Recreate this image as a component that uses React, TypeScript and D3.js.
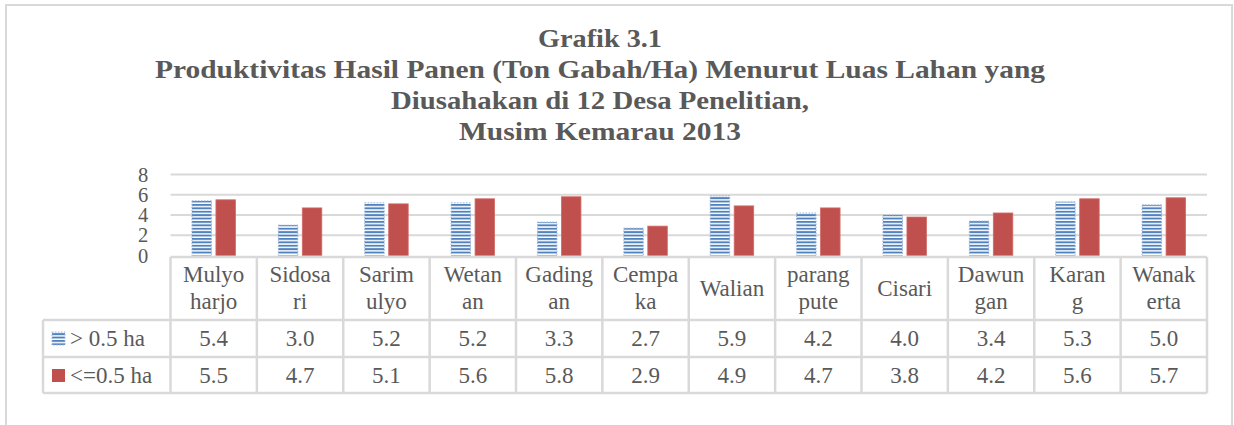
import React from "react";
import * as d3 from "d3";

const categories = [
  ["Mulyo", "harjo"], ["Sidosa", "ri"], ["Sarim", "ulyo"], ["Wetan", "an"],
  ["Gading", "an"], ["Cempa", "ka"], ["Walian"], ["parang", "pute"],
  ["Cisari"], ["Dawun", "gan"], ["Karan", "g"], ["Wanak", "erta"],
];
const seriesNames = ["> 0.5 ha", "<=0.5 ha"];
const seriesLarge = [5.4, 3.0, 5.2, 5.2, 3.3, 2.7, 5.9, 4.2, 4.0, 3.4, 5.3, 5.0];
const seriesSmall = [5.5, 4.7, 5.1, 5.6, 5.8, 2.9, 4.9, 4.7, 3.8, 4.2, 5.6, 5.7];
const yTicks = [0, 2, 4, 6, 8];
const titleLines = [
  "Grafik 3.1",
  "Produktivitas Hasil Panen (Ton Gabah/Ha) Menurut Luas Lahan yang",
  "Diusahakan di 12 Desa Penelitian,",
  "Musim Kemarau 2013",
];

const W = 1234, H = 425;
const plotLeft = 170.5, plotRight = 1207;
const yBase = 255.5, yTop = 174.5;
const rowLines = [257, 320, 357, 393];
const legendLeft = 43;
const grid = "#d9d9d9";
const textCol = "#595959";
const blue = "#4f81bd";
const red = "#c0504d";
const serif = "'Liberation Serif', 'Times New Roman', serif";

export default function App() {
  const idx = categories.map((_, i) => String(i));
  const x = d3.scaleBand().domain(idx).range([plotLeft, plotRight]).paddingInner(0).paddingOuter(0);
  const y = d3.scaleLinear().domain([0, 8]).range([yBase, yTop]);
  const barW = 19.5, gap = 4.5;
  const bw = x.bandwidth();
  const titleWidths = [124, 890, 418, 282];
  const titleY = [47, 78, 109, 140];
  const fs = 23;

  return (
    <svg width={W} height={H} style={{ position: "absolute", left: 0, top: 0, background: "#fff" }}>
      <defs>
        <pattern id="hstripe" patternUnits="userSpaceOnUse" width="4" height="3.4">
          <rect width="4" height="3.4" fill="#fff" />
          <rect width="4" height="1.9" fill={blue} />
        </pattern>
      </defs>
      {/* outer frame */}
      <rect x={6} y={5} width={1226} height={430} fill="none" stroke={grid} strokeWidth={2} />
      {/* title */}
      {titleLines.map((t, i) => (
        <text key={i} x={600} y={titleY[i]} textAnchor="middle" fontFamily={serif}
          fontWeight="bold" fontSize={25} fill={textCol} textLength={titleWidths[i]} lengthAdjust="spacingAndGlyphs">{t}</text>
      ))}
      {/* gridlines */}
      {yTicks.filter(t => t > 0).map(t => (
        <line key={t} x1={plotLeft} x2={plotRight} y1={y(t)} y2={y(t)} stroke={grid} strokeWidth={2} />
      ))}
      {/* y tick labels */}
      {yTicks.map(t => (
        <text key={t} x={143} y={y(t) + 7} textAnchor="middle" fontFamily={serif} fontSize={20.5} fill={textCol}>{t}</text>
      ))}
      {/* bars */}
      {idx.map((k, i) => {
        const c = (x(k) as number) + bw / 2;
        return (
          <g key={k}>
            <rect x={c - gap / 2 - barW} y={y(seriesLarge[i])} width={barW} height={yBase - y(seriesLarge[i])}
              fill="url(#hstripe)" stroke="#9db7dc" strokeWidth={1} strokeDasharray="1.5,1.5" />
            <rect x={c + gap / 2} y={y(seriesSmall[i])} width={barW} height={yBase - y(seriesSmall[i])}
              fill={red} stroke="#d26a67" strokeWidth={0.8} />
          </g>
        );
      })}
      {/* table lines */}
      <line x1={plotLeft} x2={plotRight} y1={rowLines[0]} y2={rowLines[0]} stroke={grid} strokeWidth={2.5} />
      {rowLines.slice(1).map(r => (
        <line key={r} x1={legendLeft} x2={plotRight} y1={r} y2={r} stroke={grid} strokeWidth={2.5} />
      ))}
      <line x1={legendLeft} x2={legendLeft} y1={rowLines[1]} y2={rowLines[3]} stroke={grid} strokeWidth={2.5} />
      {idx.map(k => (
        <line key={k} x1={x(k) as number} x2={x(k) as number} y1={rowLines[0]} y2={rowLines[3]} stroke={grid} strokeWidth={2.5} />
      ))}
      <line x1={plotRight} x2={plotRight} y1={rowLines[0]} y2={rowLines[3]} stroke={grid} strokeWidth={2.5} />
      {/* category labels */}
      {idx.map((k, i) => {
        const c = (x(k) as number) + bw / 2;
        const lines = categories[i];
        return lines.length === 1 ? (
          <text key={k} x={c} y={296} textAnchor="middle" fontFamily={serif} fontSize={fs} fill={textCol}>{lines[0]}</text>
        ) : (
          <g key={k}>
            <text x={c} y={282} textAnchor="middle" fontFamily={serif} fontSize={fs} fill={textCol}>{lines[0]}</text>
            <text x={c} y={309} textAnchor="middle" fontFamily={serif} fontSize={fs} fill={textCol}>{lines[1]}</text>
          </g>
        );
      })}
      {/* values */}
      {idx.map((k, i) => {
        const c = (x(k) as number) + bw / 2;
        return (
          <g key={k}>
            <text x={c} y={346} textAnchor="middle" fontFamily={serif} fontSize={fs} fill={textCol}>{seriesLarge[i].toFixed(1)}</text>
            <text x={c} y={383} textAnchor="middle" fontFamily={serif} fontSize={fs} fill={textCol}>{seriesSmall[i].toFixed(1)}</text>
          </g>
        );
      })}
      {/* legend */}
      <rect x={52} y={332} width={13} height={13} fill="url(#hstripe)" stroke="#9db7dc" strokeWidth={1} strokeDasharray="1.5,1.5" />
      <text x={70} y={346} fontFamily={serif} fontSize={fs} fill={textCol}>{seriesNames[0]}</text>
      <rect x={52} y={369} width={13} height={13} fill={red} />
      <text x={70} y={383} fontFamily={serif} fontSize={fs} fill={textCol}>{seriesNames[1]}</text>
    </svg>
  );
}
